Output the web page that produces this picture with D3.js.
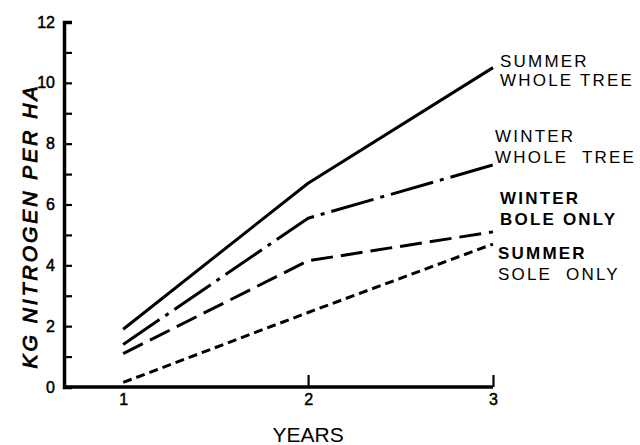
<!DOCTYPE html>
<html>
<head>
<meta charset="utf-8">
<script src="https://cdn.jsdelivr.net/npm/d3@7"></script>
<style>
  html, body { margin: 0; padding: 0; background: #fff; }
  svg { display: block; }
  text { font-family: "Liberation Sans", Arial, Helvetica, sans-serif; fill: #000; }
</style>
</head>
<body>
<svg id="chart" width="640" height="445"></svg>
<script>
const years = [1, 2, 3];
const xTickLabels = ["1", "2", "3"];
const yTicksMajor = [0, 2, 4, 6, 8, 10, 12];
const yTicksAll = [0, 1, 2, 3, 4, 5, 6, 7, 8, 9, 10, 11, 12];

const summerWholeTree = [1.9, 6.7, 10.5];
const winterWholeTree = [1.4, 5.55, 7.3];
const winterBoleOnly = [1.1, 4.15, 5.1];
const summerBoleOnly = [0.15, 2.45, 4.7];

const seriesNames = ["SUMMER|WHOLE TREE", "WINTER|WHOLE  TREE", "WINTER|BOLE ONLY", "SUMMER|SOLE  ONLY"];

const svg = d3.select("#chart");
const x = d3.scaleLinear().domain([0.68, 3]).range([64, 493]);
const y = d3.scaleLinear().domain([0, 12]).range([387, 22]);

// Y axis (ticks pointing inward)
const yAxis = d3.axisLeft(y)
  .tickValues(yTicksAll)
  .tickSize(-8)
  .tickPadding(9)
  .tickFormat(d => yTicksMajor.includes(d) ? String(d) : "");
const gy = svg.append("g").attr("transform", "translate(64,0)").call(yAxis);
gy.select(".domain").attr("stroke", "#000").attr("stroke-width", 3.5);
gy.selectAll(".tick line").attr("stroke", "#000").attr("stroke-width", 2.2);
gy.selectAll(".tick text").attr("font-size", 16)
  .attr("font-family", "Liberation Sans, Arial, sans-serif")
  .attr("stroke", "#000").attr("stroke-width", 0.5);

// X axis
const xAxis = d3.axisBottom(x)
  .tickValues(years)
  .tickSize(-12)
  .tickPadding(7)
  .tickFormat((d, i) => xTickLabels[i]);
const gx = svg.append("g").attr("transform", "translate(0,387)").call(xAxis);
gx.select(".domain").attr("stroke", "#000").attr("stroke-width", 3.5)
  .attr("d", `M64,0H${x(3)}`);
gx.selectAll(".tick line").attr("stroke", "#000").attr("stroke-width", 2.2)
  .attr("y2", d => d === 1 ? 0 : -12);
gx.selectAll(".tick text").attr("font-size", 16)
  .attr("font-family", "Liberation Sans, Arial, sans-serif")
  .attr("stroke", "#000").attr("stroke-width", 0.5);

// Axis titles
svg.append("text")
  .attr("x", x(2)).attr("y", 442)
  .attr("text-anchor", "middle")
  .attr("font-size", 21)
  .text("YEARS");

svg.append("text")
  .attr("transform", "translate(37,226) rotate(-90)")
  .attr("text-anchor", "middle")
  .attr("font-size", 21)
  .attr("font-style", "italic")
  .attr("letter-spacing", 3)
  .attr("stroke", "#000").attr("stroke-width", 0.9)
  .text("KG NITROGEN PER HA");

// Lines
const line = d3.line().x((d, i) => x(years[i])).y(d => y(d));
const seriesData = [summerWholeTree, winterWholeTree, winterBoleOnly, summerBoleOnly];
const dashes = [null, "44,7,4,7", "22,8", "9,5"];
seriesData.forEach((vals, k) => {
  svg.append("path")
    .datum(vals)
    .attr("d", line)
    .attr("fill", "none")
    .attr("stroke", "#000")
    .attr("stroke-width", 3)
    .attr("stroke-dasharray", dashes[k])
    .attr("stroke-linecap", "butt")
    .attr("stroke-linejoin", "round");
});

// Labels on right
const labelPos = [
  { x: 500, y1: 67, y2: 86, w1: "normal", w2: "normal" },
  { x: 495, y1: 142, y2: 163, w1: "normal", w2: "normal" },
  { x: 500, y1: 204, y2: 225, w1: "bold", w2: "bold" },
  { x: 498, y1: 259, y2: 280, w1: "bold", w2: "normal" }
];
seriesNames.forEach((nm, k) => {
  const parts = nm.split("|");
  const p = labelPos[k];
  svg.append("text").attr("x", p.x).attr("y", p.y1)
    .attr("font-size", 17).attr("letter-spacing", 2.2)
    .attr("font-weight", p.w1).style("white-space", "pre").text(parts[0]);
  svg.append("text").attr("x", p.x).attr("y", p.y2)
    .attr("font-size", 17).attr("letter-spacing", 2.2)
    .attr("font-weight", p.w2).style("white-space", "pre").text(parts[1]);
});
</script>
</body>
</html>
